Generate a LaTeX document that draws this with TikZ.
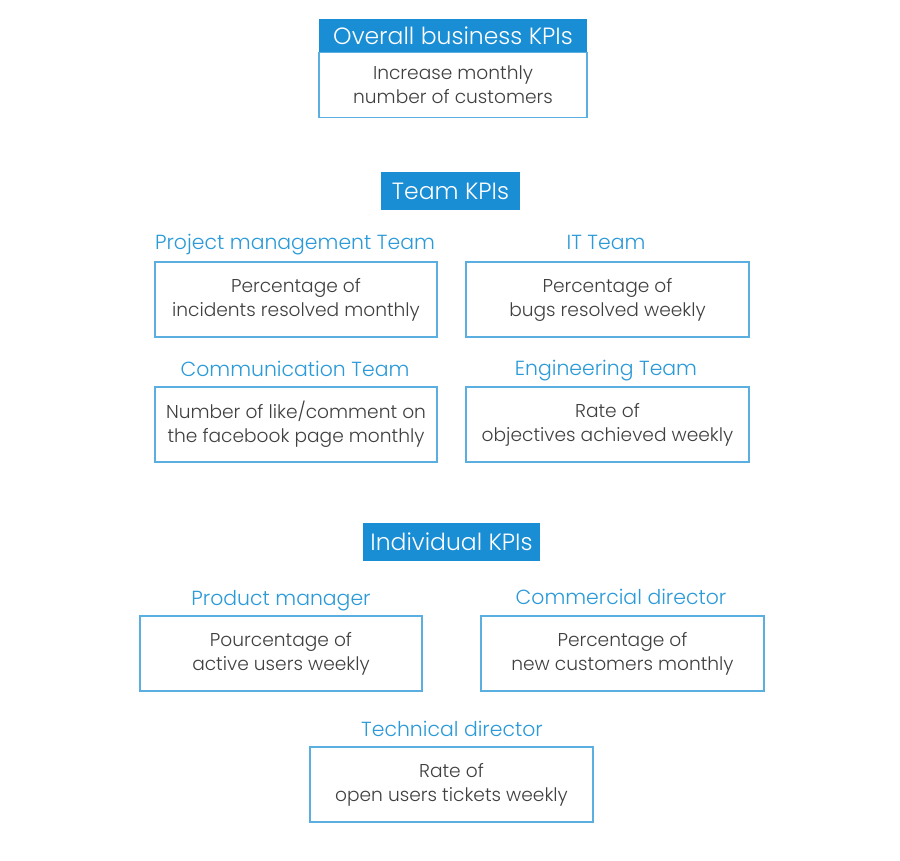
\documentclass[tikz,border=0pt]{standalone}
\usepackage{fontspec}
\setmainfont{Poppins}[UprightFont=*-Light]
\definecolor{kblue}{HTML}{1A8ED4}
\definecolor{klabel}{HTML}{2A9AD8}
\definecolor{kborder}{HTML}{5BAEE0}
\definecolor{ktext}{HTML}{404040}
\tikzset{
  head/.style={fill=kblue, text=white, inner sep=0pt, font=\fontsize{23.5}{26}\selectfont},
  kbox/.style={draw=kborder, line width=1.2pt, inner sep=0pt, text=ktext, align=center, font=\fontsize{18.6}{24}\selectfont},
  klab/.style={text=klabel, inner sep=0pt, anchor=base, font=\fontsize{20.4}{22}\selectfont}
}
\begin{document}
\begin{tikzpicture}[x=1pt,y=-1pt]
\useasboundingbox (0,0) rectangle (900,860);
\fill[white] (0,0) rectangle (900,860);
% Overall
\node[head, minimum width=268pt, minimum height=33pt] (ohead) at (453,35.5) {Overall business KPIs};
\node[kbox, minimum width=268pt, minimum height=65pt] (obox) at (453,85) {Increase monthly\\number of customers};
% Team
\node[head, minimum width=139pt, minimum height=38pt] (thead) at (450.5,191) {Team KPIs};
\node[klab] (pmlab) at (295,249.5) {Project management Team};
\node[kbox, minimum width=282pt, minimum height=75pt] (pmbox) at (296,299.5) {Percentage of\\incidents resolved monthly};
\node[klab] (itlab) at (606,249) {IT Team};
\node[kbox, minimum width=283pt, minimum height=75pt] (itbox) at (607.5,299.5) {Percentage of\\bugs resolved weekly};
\node[klab] (cmlab) at (295,376) {Communication Team};
\node[kbox, minimum width=282pt, minimum height=75pt] (cmbox) at (296,424.5) {Number of like/comment on\\the facebook page monthly};
\node[klab] (enlab) at (606,375) {Engineering Team};
\node[kbox, minimum width=283pt, minimum height=75pt] (enbox) at (607.5,424.5) {Rate of\\objectives achieved weekly};
% Individual
\node[head, minimum width=177pt, minimum height=38pt] (ihead) at (451.5,542) {Individual KPIs};
\node[klab] (pdlab) at (281,605) {Product manager};
\node[kbox, minimum width=282pt, minimum height=75pt] (pdbox) at (281,653.5) {Pourcentage of\\active users weekly};
\node[klab] (cdlab) at (621,604) {Commercial director};
\node[kbox, minimum width=283pt, minimum height=75pt] (cdbox) at (622.5,653.5) {Percentage of\\new customers monthly};
\node[klab] (tdlab) at (452,736) {Technical director};
\node[kbox, minimum width=283pt, minimum height=75pt] (tdbox) at (451.5,784.5) {Rate of\\open users tickets weekly};
\end{tikzpicture}
\end{document}
